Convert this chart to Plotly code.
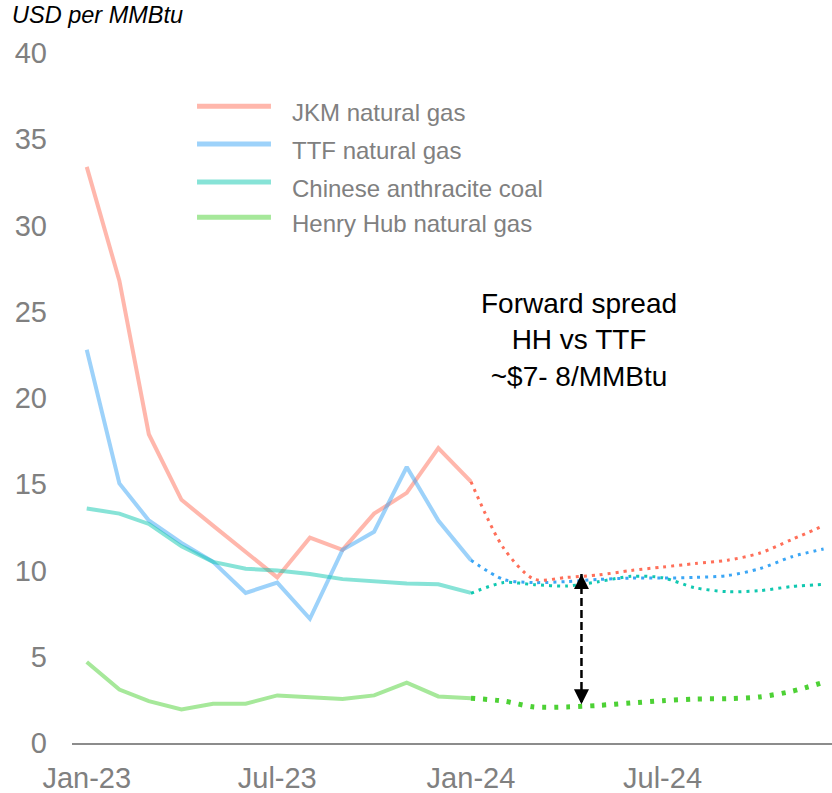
import plotly.graph_objects as go

# ---------------- data ----------------
months_hist = ["2023-01-01", "2023-02-01", "2023-03-01", "2023-04-01", "2023-05-01",
               "2023-06-01", "2023-07-01", "2023-08-01", "2023-09-01", "2023-10-01",
               "2023-11-01", "2023-12-01", "2024-01-01"]
months_fwd = ["2024-01-01", "2024-02-01", "2024-03-01", "2024-04-01", "2024-05-01",
              "2024-06-01", "2024-07-01", "2024-08-01", "2024-09-01", "2024-10-01",
              "2024-11-01", "2024-12-01"]

series_names = ["JKM natural gas", "TTF natural gas", "Chinese anthracite coal",
                "Henry Hub natural gas"]

jkm_hist = [33.4, 26.8, 17.9, 14.1, 12.6, 11.1, 9.6, 11.9, 11.2, 13.3, 14.5, 17.1, 15.15]
ttf_hist = [22.8, 15.05, 12.9, 11.6, 10.5, 8.7, 9.3, 7.2, 11.2, 12.25, 16.0, 12.9, 10.6]
coal_hist = [13.6, 13.3, 12.7, 11.4, 10.5, 10.1, 10.0, 9.8, 9.5, 9.35, 9.25, 9.2, 8.7]
hh_hist = [4.7, 3.1, 2.43, 1.95, 2.28, 2.28, 2.76, 2.67, 2.55, 2.76, 3.5, 2.7, 2.6]

jkm_fwd = [15.15, 11.3, 9.5, 9.6, 9.74, 10.0, 10.2, 10.4, 10.6, 11.0, 11.8, 12.6]
ttf_fwd = [10.6, 9.48, 9.3, 9.36, 9.48, 9.56, 9.56, 9.6, 9.71, 10.1, 10.8, 11.25]
coal_fwd = [8.68, 9.3, 9.18, 9.1, 9.35, 9.66, 9.58, 9.0, 8.77, 8.83, 9.07, 9.2]
hh_fwd = [2.6, 2.43, 2.09, 2.09, 2.18, 2.32, 2.45, 2.55, 2.57, 2.67, 3.0, 3.52]

tick_vals = ["2023-01-01", "2023-07-01", "2024-01-01", "2024-07-01"]
tick_text = ["Jan-23", "Jul-23", "Jan-24", "Jul-24"]
y_ticks = [0, 5, 10, 15, 20, 25, 30, 35, 40]

arrow_x = "2024-04-15"
arrow_top = 9.8
arrow_bottom = 2.25

# ---------------- styles ----------------
solid_colors = ["rgba(255,111,89,0.5)", "rgba(59,166,245,0.5)",
                "rgba(16,200,176,0.5)", "rgba(77,209,53,0.5)"]
dot_colors = ["#FF6F59", "#3BA6F5", "#10C8B0", "#4DD135"]
dot_width = [3, 3, 3, 5]
dot_dash = ["3px,5px", "3px,5px", "3px,5px", "4px,8px"]

FONT = "Liberation Sans, Arial, sans-serif"

fig = go.Figure()

hist = [jkm_hist, ttf_hist, coal_hist, hh_hist]
fwd = [jkm_fwd, ttf_fwd, coal_fwd, hh_fwd]

for i in range(4):
    fig.add_trace(go.Scatter(
        x=months_hist, y=hist[i], mode="lines", name=series_names[i],
        line=dict(color=solid_colors[i], width=4), showlegend=False))

for i in [3, 2, 1, 0]:
    fig.add_trace(go.Scatter(
        x=months_fwd, y=fwd[i], mode="lines", name=series_names[i] + " forward",
        line=dict(color=dot_colors[i], width=dot_width[i], dash=dot_dash[i],
                  shape="spline", smoothing=0.8),
        showlegend=False))

# dashed double arrow
fig.add_trace(go.Scatter(
    x=[arrow_x, arrow_x], y=[arrow_top, arrow_bottom], mode="lines",
    line=dict(color="black", width=2.5, dash="8px,4px"), showlegend=False))
fig.add_trace(go.Scatter(
    x=[arrow_x, arrow_x], y=[arrow_top, arrow_bottom], mode="markers",
    marker=dict(symbol=["arrow-up", "arrow-down"], size=15, color="black",
                line=dict(width=0)),
    showlegend=False))

# manual legend
leg_y = [0.923, 0.868, 0.813, 0.762]
for i in range(4):
    fig.add_shape(type="line", xref="paper", yref="paper",
                  x0=0.1645, x1=0.2618, y0=leg_y[i], y1=leg_y[i],
                  line=dict(color=solid_colors[i], width=5))
    fig.add_annotation(xref="paper", yref="paper", x=0.2868, y=leg_y[i] - 0.009,
                       text=series_names[i], showarrow=False, xanchor="left",
                       yanchor="middle",
                       font=dict(family=FONT, size=24, color="#808080"))

fig.add_annotation(xref="paper", yref="paper", x=0.667, y=0.584,
                   text="Forward spread<br>HH vs TTF<br>~$7- 8/MMBtu",
                   showarrow=False, xanchor="center", yanchor="middle",
                   font=dict(family=FONT, size=28, color="black"))

fig.add_annotation(xref="paper", yref="paper", x=-0.0816, y=1.055,
                   text="<i>USD per MMBtu</i>", showarrow=False,
                   xanchor="left", yanchor="middle",
                   font=dict(family=FONT, size=23.5, color="black"))

fig.update_layout(
    width=832, height=793,
    margin=dict(l=72, r=0, t=53, b=50),
    paper_bgcolor="white", plot_bgcolor="white",
    font=dict(family=FONT),
    xaxis=dict(type="date", range=["2022-12-18", "2024-12-09"],
               tickvals=tick_vals, ticktext=tick_text,
               showgrid=False, zeroline=False, showline=True,
               linecolor="#8c8c8c", linewidth=1.5, ticks="",
               tickfont=dict(family=FONT, size=29, color="#808080"),
               ticklabelstandoff=8),
    yaxis=dict(range=[0, 40], tickvals=y_ticks, showgrid=False, zeroline=False,
               showline=False, ticks="",
               tickfont=dict(family=FONT, size=29, color="#808080"),
               ticklabelstandoff=24),
)

fig.write_html("out.html")
